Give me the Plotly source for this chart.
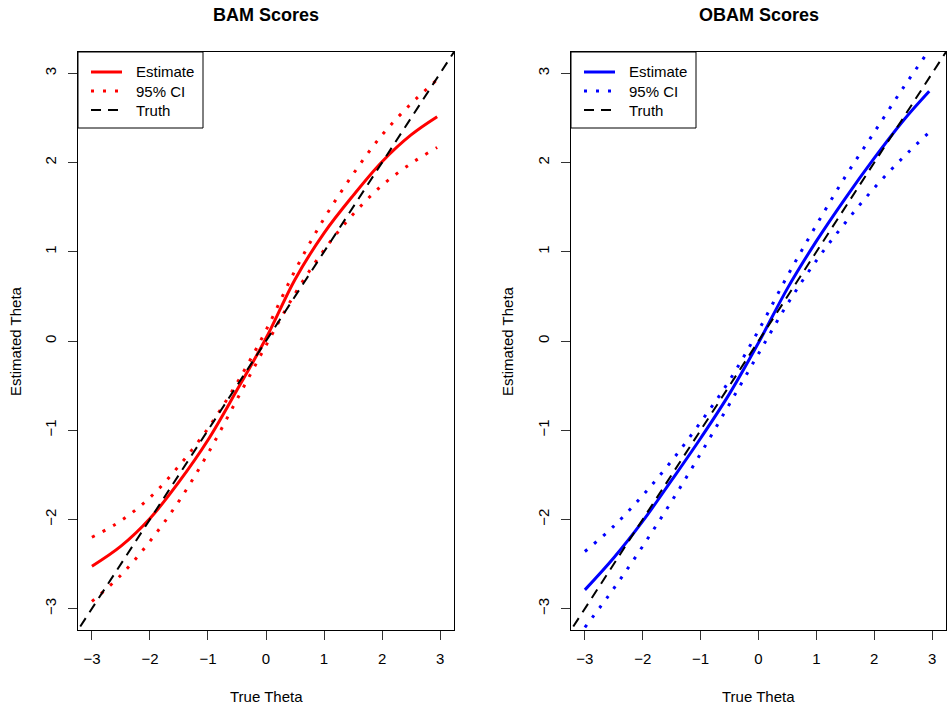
import plotly.graph_objects as go

# ---------------- data ----------------
theta = [-3.0, -2.5, -2.0, -1.5, -1.0, -0.5, 0.0, 0.5, 1.0, 1.5, 2.0, 2.5, 2.95]

bam_est = [-2.525, -2.30, -1.99, -1.58, -1.11, -0.55, 0.03, 0.69, 1.21, 1.63, 2.01, 2.31, 2.514]
bam_upper = [-2.20, -2.015, -1.755, -1.40, -0.98, -0.47, 0.12, 0.79, 1.372, 1.87, 2.31, 2.66, 2.93]
bam_lower = [-2.92, -2.625, -2.245, -1.795, -1.26, -0.655, -0.05, 0.53, 1.02, 1.42, 1.745, 1.99, 2.17]

obam_est = [-2.79, -2.43, -2.02, -1.56, -1.09, -0.59, -0.02, 0.59, 1.12, 1.60, 2.05, 2.47, 2.80]
obam_upper = [-2.36, -2.075, -1.73, -1.343, -0.91, -0.44, 0.118, 0.73, 1.30, 1.843, 2.34, 2.838, 3.26]
obam_lower = [-3.21, -2.774, -2.30, -1.796, -1.262, -0.705, -0.142, 0.414, 0.902, 1.326, 1.716, 2.059, 2.34]

truth = [-4.0, 4.0]

ticks = [-3, -2, -1, 0, 1, 2, 3]
titles = ["BAM Scores", "OBAM Scores"]
x_label = "True Theta"
y_label = "Estimated Theta"
legend_names = ["Estimate", "95% CI", "Truth"]

# ---------------- figure ----------------
W, H = 947, 707
FONT = "Liberation Sans, Arial, Helvetica, sans-serif"
DOT = "3px,9px"
DASH = "10px,7px"

fig = go.Figure()

panels = [
    (bam_est, bam_upper, bam_lower, "#FF0000", "x", "y"),
    (obam_est, obam_upper, obam_lower, "#0000FF", "x2", "y2"),
]

for est, up, lo, col, xa, ya in panels:
    fig.add_trace(go.Scatter(x=theta, y=est, mode="lines", name=legend_names[0], showlegend=False,
                             line=dict(color=col, width=3, shape="spline"), xaxis=xa, yaxis=ya))
    fig.add_trace(go.Scatter(x=theta, y=up, mode="lines", name=legend_names[1], showlegend=False,
                             line=dict(color=col, width=3, dash=DOT, shape="spline"), xaxis=xa, yaxis=ya))
    fig.add_trace(go.Scatter(x=theta, y=lo, mode="lines", name=legend_names[1], showlegend=False,
                             line=dict(color=col, width=3, dash=DOT, shape="spline"), xaxis=xa, yaxis=ya))
    fig.add_trace(go.Scatter(x=truth, y=truth, mode="lines", name=legend_names[2], showlegend=False,
                             line=dict(color="black", width=2, dash=DASH), xaxis=xa, yaxis=ya))

x1d = [78 / W, 454 / W]
x2d = [571 / W, 946 / W]
yd = [1 - 630 / H, 1 - 52 / H]

axis_common = dict(
    range=[-3.24, 3.24], tickvals=ticks,
    ticktext=[("\u2212" + str(-t)) if t < 0 else str(t) for t in ticks],
    showgrid=False, zeroline=False, showline=True, mirror=True,
    linecolor="black", linewidth=1, ticks="outside", ticklen=9, tickwidth=1,
    tickcolor="#333333", tickfont=dict(family=FONT, size=15, color="black"),
)

fig.update_layout(
    width=W, height=H,
    margin=dict(l=0, r=0, t=0, b=0),
    paper_bgcolor="white", plot_bgcolor="white",
    font=dict(family=FONT, size=15, color="black"),
    xaxis=dict(domain=x1d, anchor="y", ticklabelstandoff=6, **axis_common),
    yaxis=dict(domain=yd, anchor="x", tickangle=-90, ticklabelstandoff=6, **axis_common),
    xaxis2=dict(domain=x2d, anchor="y2", ticklabelstandoff=6, **axis_common),
    yaxis2=dict(domain=yd, anchor="x2", tickangle=-90, ticklabelstandoff=6, **axis_common),
    showlegend=False,
)

def px(x):
    return x / W

def py(y):
    return 1 - y / H

annotations = []
shapes = []
for dom, t, col in zip([x1d, x2d], titles, ["#FF0000", "#0000FF"]):
    cx = (dom[0] + dom[1]) / 2
    annotations.append(dict(text="<b>" + t + "</b>", x=cx, y=py(15), xref="paper", yref="paper",
                            xanchor="center", yanchor="middle", showarrow=False,
                            font=dict(family=FONT, size=18, color="black")))
    annotations.append(dict(text=x_label, x=cx, y=py(696), xref="paper", yref="paper",
                            xanchor="center", yanchor="middle", showarrow=False,
                            font=dict(family=FONT, size=15, color="black")))
    # legend box (drawn manually to match the reference layout)
    left = dom[0] * W
    shapes.append(dict(type="rect", xref="paper", yref="paper",
                       x0=px(left), x1=px(left + 125), y0=py(52), y1=py(128),
                       line=dict(color="black", width=1), fillcolor="white", layer="above"))
    styles = [dict(color=col, width=3), dict(color=col, width=3, dash=DOT),
              dict(color="black", width=2, dash=DASH)]
    for i, (name, st) in enumerate(zip(legend_names, styles)):
        yy = 72 + 19 * i
        shapes.append(dict(type="line", xref="paper", yref="paper",
                           x0=px(left + 13), x1=px(left + 44), y0=py(yy), y1=py(yy),
                           line=st, layer="above"))
        annotations.append(dict(text=name, x=px(left + 56), y=py(yy), xref="paper", yref="paper",
                                xanchor="left", yanchor="middle", showarrow=False,
                                font=dict(family=FONT, size=15, color="black")))
for xc in [15, 507]:
    annotations.append(dict(text=y_label, x=px(xc), y=(yd[0] + yd[1]) / 2, xref="paper", yref="paper",
                            xanchor="center", yanchor="middle", showarrow=False, textangle=-90,
                            font=dict(family=FONT, size=15, color="black")))
fig.update_layout(annotations=annotations, shapes=shapes)

fig.write_html("out.html", config={"displayModeBar": False},
               post_script="document.body.style.margin='0px';document.body.style.overflow='hidden';")
